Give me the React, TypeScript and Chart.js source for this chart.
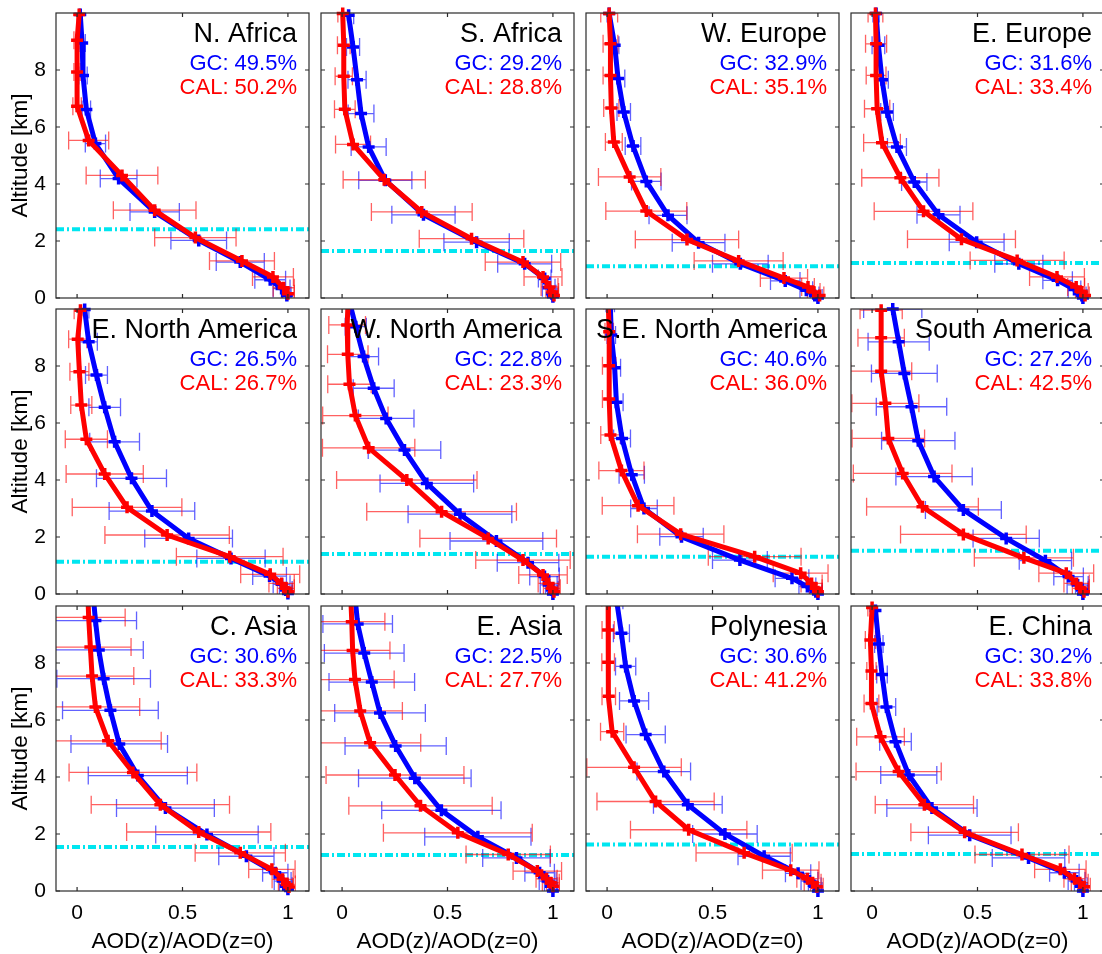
import React, { useEffect, useRef } from 'react';
import { Chart, registerables } from 'chart.js';

Chart.register(...registerables);

const FONT = "'Liberation Sans', Arial, Helvetica, sans-serif";

// ---------------- axes ----------------
const X_TICKS = [0, 0.5, 1];
const Y_TICKS = [0, 2, 4, 6, 8];
const X_MIN = -0.1;
const X_MAX = 1.1;
const Y_MIN = 0;
const Y_MAX = 10;
const X_TITLE = 'AOD(z)/AOD(z=0)';
const Y_TITLE = 'Altitude [km]';

// ---------------- panel labels ----------------
const REGIONS = [
  'N. Africa', 'S. Africa', 'W. Europe', 'E. Europe',
  'E. North America', 'W. North America', 'S.E. North America', 'South America',
  'C. Asia', 'E. Asia', 'Polynesia', 'E. China',
];
const GC_SCORES = ['49.5%', '29.2%', '32.9%', '31.6%', '26.5%', '22.8%', '40.6%', '27.2%', '30.6%', '22.5%', '30.6%', '30.2%'];
const CAL_SCORES = ['50.2%', '28.8%', '35.1%', '33.4%', '26.7%', '23.3%', '36.0%', '42.5%', '33.3%', '27.7%', '41.2%', '33.8%'];
const PBL_HEIGHTS = [2.41, 1.65, 1.11, 1.23, 1.13, 1.40, 1.31, 1.52, 1.54, 1.26, 1.63, 1.30];

// ---------------- N. Africa ----------------
const NAF_CAL_ALT = [9.95, 9.04, 7.93, 6.73, 5.53, 4.30, 3.08, 2.12, 1.30, 0.74, 0.36, 0.15];
const NAF_CAL_AOD = [0.01, 0.0, 0.0, 0.0, 0.055, 0.213, 0.368, 0.561, 0.782, 0.929, 0.98, 1.0];
const NAF_CAL_ERR = [0.01, 0.015, 0.015, 0.02, 0.095, 0.17, 0.196, 0.193, 0.154, 0.097, 0.05, 0.03];
const NAF_GC_ALT = [9.95, 8.95, 7.81, 6.61, 5.42, 4.19, 3.02, 2.02, 1.26, 0.64, 0.33, 0.09];
const NAF_GC_AOD = [0.015, 0.024, 0.028, 0.044, 0.087, 0.197, 0.368, 0.577, 0.774, 0.916, 0.97, 0.995];
const NAF_GC_ERR = [0.01, 0.015, 0.02, 0.02, 0.048, 0.087, 0.117, 0.132, 0.114, 0.073, 0.04, 0.02];

// ---------------- S. Africa ----------------
const SAF_CAL_ALT = [9.98, 8.87, 7.78, 6.62, 5.39, 4.15, 3.02, 2.08, 1.26, 0.74, 0.39, 0.21, 0.09];
const SAF_CAL_AOD = [0.003, 0.008, 0.008, 0.013, 0.052, 0.2, 0.378, 0.614, 0.858, 0.953, 0.984, 0.997, 1.005];
const SAF_CAL_ERR = [0.023, 0.03, 0.041, 0.049, 0.083, 0.195, 0.239, 0.248, 0.179, 0.09, 0.04, 0.03, 0.02];
const SAF_GC_ALT = [9.92, 8.81, 7.66, 6.47, 5.30, 4.13, 2.92, 1.96, 1.20, 0.68, 0.36, 0.15, 0.04];
const SAF_GC_AOD = [0.031, 0.052, 0.071, 0.09, 0.126, 0.205, 0.386, 0.638, 0.866, 0.961, 0.98, 0.995, 1.0];
const SAF_GC_ERR = [0.024, 0.031, 0.043, 0.061, 0.083, 0.126, 0.15, 0.155, 0.128, 0.03, 0.03, 0.02, 0.02];

// ---------------- W. Europe ----------------
const WEU_CAL_ALT = [9.98, 8.92, 7.81, 6.67, 5.47, 4.25, 3.05, 2.05, 1.30, 0.70, 0.39, 0.21, 0.09];
const WEU_CAL_AOD = [0.01, 0.016, 0.016, 0.02, 0.032, 0.107, 0.186, 0.379, 0.624, 0.839, 0.953, 0.98, 1.008];
const WEU_CAL_ERR = [0.04, 0.035, 0.035, 0.036, 0.04, 0.148, 0.192, 0.245, 0.211, 0.112, 0.03, 0.03, 0.02];
const WEU_GC_ALT = [9.98, 8.87, 7.70, 6.53, 5.33, 4.09, 2.90, 1.94, 1.20, 0.60, 0.27, 0.09, 0.0];
const WEU_GC_AOD = [0.01, 0.036, 0.052, 0.079, 0.123, 0.186, 0.289, 0.434, 0.632, 0.845, 0.945, 0.985, 1.0];
const WEU_GC_ERR = [0.01, 0.02, 0.032, 0.032, 0.037, 0.07, 0.09, 0.125, 0.132, 0.07, 0.03, 0.02, 0.02];

// ---------------- E. Europe ----------------
const EEU_CAL_ALT = [9.98, 8.92, 7.81, 6.64, 5.45, 4.22, 3.04, 2.06, 1.32, 0.74, 0.39, 0.21, 0.09];
const EEU_CAL_AOD = [0.016, 0.019, 0.019, 0.024, 0.047, 0.134, 0.244, 0.424, 0.688, 0.877, 0.968, 0.995, 1.01];
const EEU_CAL_ERR = [0.035, 0.05, 0.047, 0.06, 0.087, 0.183, 0.234, 0.256, 0.223, 0.13, 0.04, 0.03, 0.02];
const EEU_GC_ALT = [9.98, 8.87, 7.66, 6.53, 5.30, 4.07, 2.92, 1.96, 1.20, 0.62, 0.30, 0.09, 0.0];
const EEU_GC_AOD = [0.019, 0.03, 0.047, 0.071, 0.118, 0.2, 0.315, 0.496, 0.696, 0.88, 0.96, 0.995, 1.0];
const EEU_GC_ERR = [0.015, 0.03, 0.03, 0.03, 0.045, 0.06, 0.102, 0.13, 0.114, 0.07, 0.03, 0.02, 0.02];

// ---------------- E. North America ----------------
const ENA_CAL_ALT = [9.96, 8.94, 7.80, 6.63, 5.43, 4.21, 3.04, 2.07, 1.31, 0.69, 0.37, 0.20, 0.08];
const ENA_CAL_AOD = [0.016, 0.003, 0.011, 0.02, 0.044, 0.131, 0.237, 0.427, 0.724, 0.916, 0.97, 0.99, 1.0];
const ENA_CAL_ERR = [0.03, 0.043, 0.045, 0.05, 0.1, 0.183, 0.26, 0.295, 0.253, 0.14, 0.06, 0.04, 0.02];
const ENA_GC_ALT = [9.98, 8.85, 7.68, 6.55, 5.34, 4.06, 2.91, 1.95, 1.25, 0.63, 0.34, 0.14, 0.02];
const ENA_GC_AOD = [0.036, 0.055, 0.092, 0.131, 0.178, 0.258, 0.355, 0.529, 0.73, 0.913, 0.97, 0.99, 1.0];
const ENA_GC_ERR = [0.02, 0.041, 0.052, 0.075, 0.118, 0.166, 0.203, 0.208, 0.162, 0.08, 0.04, 0.03, 0.02];

// ---------------- W. North America ----------------
const WNA_CAL_ALT = [10.5, 9.44, 8.41, 7.36, 6.26, 5.13, 4.00, 2.89, 1.95, 1.19, 0.67, 0.37, 0.20, 0.08];
const WNA_CAL_AOD = [0.03, 0.024, 0.027, 0.035, 0.063, 0.126, 0.307, 0.472, 0.693, 0.858, 0.953, 0.98, 0.995, 1.005];
const WNA_CAL_ERR = [0.08, 0.087, 0.096, 0.103, 0.155, 0.219, 0.333, 0.355, 0.324, 0.224, 0.115, 0.05, 0.04, 0.02];
const WNA_GC_ALT = [10.4, 9.38, 8.33, 7.22, 6.16, 5.05, 3.88, 2.80, 1.86, 1.10, 0.61, 0.32, 0.14, 0.0];
const WNA_GC_AOD = [0.03, 0.065, 0.102, 0.15, 0.209, 0.296, 0.402, 0.559, 0.732, 0.882, 0.96, 0.98, 0.995, 1.0];
const WNA_GC_ERR = [0.04, 0.05, 0.071, 0.097, 0.132, 0.172, 0.222, 0.246, 0.22, 0.146, 0.07, 0.04, 0.03, 0.02];

// ---------------- S.E. North America ----------------
const SENA_CAL_ALT = [10.3, 9.2, 8.01, 6.84, 5.58, 4.33, 3.10, 2.10, 1.31, 0.73, 0.37, 0.20, 0.08];
const SENA_CAL_AOD = [0.005, 0.01, 0.01, 0.01, 0.016, 0.068, 0.147, 0.349, 0.70, 0.918, 0.97, 0.99, 1.0];
const SENA_CAL_ERR = [0.02, 0.02, 0.032, 0.032, 0.046, 0.107, 0.17, 0.205, 0.22, 0.13, 0.05, 0.03, 0.02];
const SENA_GC_ALT = [10.2, 9.09, 7.94, 6.73, 5.46, 4.18, 3.00, 2.01, 1.19, 0.55, 0.26, 0.08, 0.0];
const SENA_GC_AOD = [0.015, 0.02, 0.036, 0.044, 0.071, 0.117, 0.175, 0.353, 0.63, 0.877, 0.95, 0.99, 1.0];
const SENA_GC_ERR = [0.02, 0.02, 0.028, 0.032, 0.04, 0.06, 0.063, 0.103, 0.13, 0.08, 0.04, 0.03, 0.02];

// ---------------- South America ----------------
const SAM_CAL_ALT = [9.96, 8.99, 7.82, 6.69, 5.46, 4.23, 3.06, 2.09, 1.27, 0.73, 0.37, 0.20, 0.08];
const SAM_CAL_AOD = [0.043, 0.043, 0.043, 0.063, 0.077, 0.145, 0.239, 0.433, 0.72, 0.921, 0.97, 0.99, 1.005];
const SAM_CAL_ERR = [0.1, 0.11, 0.145, 0.159, 0.172, 0.234, 0.265, 0.298, 0.235, 0.13, 0.06, 0.04, 0.02];
const SAM_GC_ALT = [10.0, 8.85, 7.74, 6.57, 5.38, 4.12, 2.95, 1.95, 1.17, 0.61, 0.32, 0.14, 0.0];
const SAM_GC_AOD = [0.098, 0.126, 0.153, 0.187, 0.219, 0.294, 0.433, 0.636, 0.822, 0.932, 0.975, 0.995, 1.0];
const SAM_GC_ERR = [0.138, 0.145, 0.156, 0.167, 0.174, 0.181, 0.18, 0.157, 0.124, 0.07, 0.05, 0.03, 0.02];

// ---------------- C. Asia ----------------
const CAS_CAL_ALT = [10.6, 9.60, 8.56, 7.54, 6.46, 5.27, 4.16, 3.03, 2.07, 1.34, 0.76, 0.41, 0.23, 0.14];
const CAS_CAL_AOD = [0.05, 0.055, 0.063, 0.071, 0.087, 0.147, 0.265, 0.395, 0.577, 0.774, 0.924, 0.975, 0.995, 1.005];
const CAS_CAL_ERR = [0.2, 0.173, 0.193, 0.198, 0.21, 0.252, 0.303, 0.328, 0.342, 0.214, 0.11, 0.05, 0.04, 0.02];
const CAS_GC_ALT = [10.5, 9.49, 8.46, 7.45, 6.34, 5.16, 4.05, 2.91, 1.98, 1.22, 0.64, 0.35, 0.17, 0.06];
const CAS_GC_AOD = [0.075, 0.087, 0.103, 0.126, 0.158, 0.2, 0.288, 0.419, 0.616, 0.803, 0.94, 0.975, 0.99, 1.0];
const CAS_GC_ERR = [0.19, 0.195, 0.211, 0.222, 0.227, 0.229, 0.235, 0.232, 0.243, 0.131, 0.06, 0.04, 0.03, 0.02];

// ---------------- E. Asia ----------------
const EAS_CAL_ALT = [10.5, 9.45, 8.44, 7.42, 6.32, 5.20, 4.07, 2.99, 2.04, 1.28, 0.70, 0.43, 0.29, 0.17];
const EAS_CAL_AOD = [0.04, 0.046, 0.05, 0.061, 0.086, 0.133, 0.251, 0.372, 0.549, 0.788, 0.926, 0.97, 0.99, 1.0];
const EAS_CAL_ERR = [0.15, 0.157, 0.177, 0.186, 0.2, 0.24, 0.327, 0.34, 0.353, 0.2, 0.115, 0.05, 0.04, 0.03];
const EAS_GC_ALT = [10.4, 9.37, 8.35, 7.33, 6.25, 5.09, 3.96, 2.83, 1.90, 1.16, 0.64, 0.35, 0.17, 0.0];
const EAS_GC_AOD = [0.06, 0.074, 0.105, 0.141, 0.18, 0.254, 0.345, 0.471, 0.644, 0.827, 0.937, 0.975, 0.99, 1.0];
const EAS_GC_ERR = [0.16, 0.165, 0.189, 0.203, 0.215, 0.24, 0.267, 0.283, 0.252, 0.16, 0.07, 0.04, 0.03, 0.02];

// ---------------- Polynesia ----------------
const POL_CAL_ALT = [10.3, 9.16, 8.03, 6.83, 5.59, 4.34, 3.14, 2.15, 1.34, 0.73, 0.43, 0.29, 0.15];
const POL_CAL_AOD = [0.005, 0.005, 0.005, 0.008, 0.024, 0.128, 0.23, 0.387, 0.65, 0.871, 0.95, 0.975, 0.995];
const POL_CAL_ERR = [0.03, 0.029, 0.03, 0.032, 0.055, 0.224, 0.278, 0.276, 0.228, 0.134, 0.05, 0.04, 0.03];
const POL_GC_ALT = [10.2, 9.04, 7.88, 6.67, 5.49, 4.19, 3.03, 2.00, 1.22, 0.62, 0.35, 0.17, 0.0];
const POL_GC_AOD = [0.045, 0.068, 0.088, 0.128, 0.183, 0.269, 0.383, 0.559, 0.745, 0.906, 0.96, 0.985, 1.0];
const POL_GC_ERR = [0.03, 0.038, 0.048, 0.069, 0.093, 0.127, 0.163, 0.153, 0.124, 0.06, 0.04, 0.03, 0.02];

// ---------------- E. China ----------------
const ECH_CAL_ALT = [9.95, 8.81, 7.72, 6.58, 5.41, 4.19, 3.03, 2.06, 1.28, 0.76, 0.43, 0.29, 0.15];
const ECH_CAL_AOD = [0.0, -0.008, -0.003, -0.003, 0.04, 0.126, 0.248, 0.439, 0.711, 0.893, 0.96, 0.985, 1.005];
const ECH_CAL_ERR = [0.02, 0.024, 0.022, 0.035, 0.113, 0.202, 0.233, 0.255, 0.223, 0.122, 0.05, 0.04, 0.03];
const ECH_GC_ALT = [9.84, 8.67, 7.60, 6.46, 5.24, 4.07, 2.91, 1.96, 1.16, 0.64, 0.35, 0.17, 0.0];
const ECH_GC_AOD = [0.016, 0.032, 0.047, 0.068, 0.111, 0.174, 0.284, 0.463, 0.742, 0.912, 0.97, 0.99, 1.0];
const ECH_GC_ERR = [0.01, 0.02, 0.025, 0.044, 0.075, 0.133, 0.214, 0.196, 0.172, 0.07, 0.04, 0.03, 0.02];

// tables built from the arrays above (panel order = REGIONS order)
const CAL_ALT = [NAF_CAL_ALT, SAF_CAL_ALT, WEU_CAL_ALT, EEU_CAL_ALT, ENA_CAL_ALT, WNA_CAL_ALT, SENA_CAL_ALT, SAM_CAL_ALT, CAS_CAL_ALT, EAS_CAL_ALT, POL_CAL_ALT, ECH_CAL_ALT];
const CAL_AOD = [NAF_CAL_AOD, SAF_CAL_AOD, WEU_CAL_AOD, EEU_CAL_AOD, ENA_CAL_AOD, WNA_CAL_AOD, SENA_CAL_AOD, SAM_CAL_AOD, CAS_CAL_AOD, EAS_CAL_AOD, POL_CAL_AOD, ECH_CAL_AOD];
const CAL_ERR = [NAF_CAL_ERR, SAF_CAL_ERR, WEU_CAL_ERR, EEU_CAL_ERR, ENA_CAL_ERR, WNA_CAL_ERR, SENA_CAL_ERR, SAM_CAL_ERR, CAS_CAL_ERR, EAS_CAL_ERR, POL_CAL_ERR, ECH_CAL_ERR];
const GC_ALT = [NAF_GC_ALT, SAF_GC_ALT, WEU_GC_ALT, EEU_GC_ALT, ENA_GC_ALT, WNA_GC_ALT, SENA_GC_ALT, SAM_GC_ALT, CAS_GC_ALT, EAS_GC_ALT, POL_GC_ALT, ECH_GC_ALT];
const GC_AOD = [NAF_GC_AOD, SAF_GC_AOD, WEU_GC_AOD, EEU_GC_AOD, ENA_GC_AOD, WNA_GC_AOD, SENA_GC_AOD, SAM_GC_AOD, CAS_GC_AOD, EAS_GC_AOD, POL_GC_AOD, ECH_GC_AOD];
const GC_ERR = [NAF_GC_ERR, SAF_GC_ERR, WEU_GC_ERR, EEU_GC_ERR, ENA_GC_ERR, WNA_GC_ERR, SENA_GC_ERR, SAM_GC_ERR, CAS_GC_ERR, EAS_GC_ERR, POL_GC_ERR, ECH_GC_ERR];

// ---------------- layout / style ----------------
const COL_LEFT = [56, 321, 586, 851];
const ROW_TOP = [13, 309, 606];
const PLOT_W = 253;
const PLOT_H = 285;
const BLUE = '#0000FF';
const RED = '#FF0000';
const BLUE_ERR = 'rgba(0,0,255,0.62)';
const RED_ERR = 'rgba(255,0,0,0.62)';
const CYAN = '#00E6F0';

function Panel({ idx }: { idx: number }) {
  const ref = useRef<HTMLCanvasElement | null>(null);
  const row = Math.floor(idx / 4);
  const col = idx % 4;
  const padL = col === 0 ? COL_LEFT[0] : 14;
  const padR = 14;
  const padT = col === 0 ? 26 : 14;
  const padB = row === 2 ? 64 : col === 0 ? 26 : 14;
  const w = padL + PLOT_W + padR;
  const h = padT + PLOT_H + padB;

  useEffect(() => {
    if (!ref.current) return;
    const series = [
      { alt: GC_ALT[idx], aod: GC_AOD[idx], err: GC_ERR[idx], color: BLUE, errColor: BLUE_ERR },
      { alt: CAL_ALT[idx], aod: CAL_AOD[idx], err: CAL_ERR[idx], color: RED, errColor: RED_ERR },
    ];

    const deco = {
      id: 'deco' + idx,
      beforeDatasetsDraw(chart: any) {
        const { ctx, chartArea: a, scales } = chart;
        const xs = scales.x;
        const ys = scales.y;
        ctx.save();
        ctx.beginPath();
        ctx.rect(a.left, a.top, a.right - a.left, a.bottom - a.top);
        ctx.clip();
        // boundary-layer line
        const yy = ys.getPixelForValue(PBL_HEIGHTS[idx]);
        ctx.strokeStyle = CYAN;
        ctx.lineWidth = 4;
        ctx.setLineDash([8, 3, 2, 3]);
        ctx.beginPath();
        ctx.moveTo(a.left, yy);
        ctx.lineTo(a.right, yy);
        ctx.stroke();
        ctx.setLineDash([]);
        // horizontal error bars
        ctx.lineWidth = 1.3;
        for (const s of series) {
          ctx.strokeStyle = s.errColor;
          for (let i = 0; i < s.alt.length; i++) {
            const py = ys.getPixelForValue(s.alt[i]);
            const x1 = xs.getPixelForValue(s.aod[i] - s.err[i]);
            const x2 = xs.getPixelForValue(s.aod[i] + s.err[i]);
            ctx.beginPath();
            ctx.moveTo(x1, py);
            ctx.lineTo(x2, py);
            ctx.moveTo(x1, py - 9);
            ctx.lineTo(x1, py + 9);
            ctx.moveTo(x2, py - 9);
            ctx.lineTo(x2, py + 9);
            ctx.stroke();
          }
        }
        ctx.restore();
      },
      afterDatasetsDraw(chart: any) {
        const { ctx, chartArea: a, scales } = chart;
        const xs = scales.x;
        const ys = scales.y;
        ctx.save();
        // frame
        ctx.strokeStyle = '#2a2a2a';
        ctx.lineWidth = 1.2;
        ctx.strokeRect(a.left, a.top, a.right - a.left, a.bottom - a.top);
        // inward tick marks on all four sides
        const tl = 4;
        ctx.beginPath();
        for (const v of X_TICKS) {
          const px = xs.getPixelForValue(v);
          ctx.moveTo(px, a.bottom);
          ctx.lineTo(px, a.bottom - tl);
          ctx.moveTo(px, a.top);
          ctx.lineTo(px, a.top + tl);
        }
        for (const v of Y_TICKS) {
          const py = ys.getPixelForValue(v);
          ctx.moveTo(a.left, py);
          ctx.lineTo(a.left + tl, py);
          ctx.moveTo(a.right, py);
          ctx.lineTo(a.right - tl, py);
        }
        ctx.stroke();
        // texts
        ctx.textAlign = 'right';
        ctx.textBaseline = 'alphabetic';
        ctx.fillStyle = '#000';
        ctx.font = `27px ${FONT}`;
        ctx.fillText(REGIONS[idx], a.right - 12, a.top + 29);
        ctx.font = `22px ${FONT}`;
        ctx.fillStyle = BLUE;
        ctx.fillText('GC: ' + GC_SCORES[idx], a.right - 12, a.top + 57);
        ctx.fillStyle = RED;
        ctx.fillText('CAL: ' + CAL_SCORES[idx], a.right - 12, a.top + 81);
        ctx.restore();
      },
    };

    const makeDataset = (s: any, label: string, order: number) => {
      const overTop = Math.max(...s.alt) > Y_MAX;
      return {
        label,
        data: s.alt.map((a: number, i: number) => ({ x: s.aod[i], y: a })),
        showLine: true,
        borderColor: s.color,
        backgroundColor: s.color,
        borderWidth: 5,
        pointStyle: 'cross',
        pointRadius: 6,
        pointBorderWidth: 3.5,
        pointBorderColor: s.color,
        pointHoverRadius: 6,
        tension: 0,
        order,
        clip: { left: 8, right: 8, top: overTop ? 0 : 8, bottom: 8 },
      };
    };

    const chart = new Chart(ref.current, {
      type: 'scatter',
      data: {
        datasets: [makeDataset(series[1], 'CAL', 1), makeDataset(series[0], 'GC', 2)],
      },
      options: {
        responsive: false,
        animation: false,
        events: [],
        layout: { padding: { left: 0, right: padR, top: padT, bottom: 0 } },
        plugins: { legend: { display: false }, tooltip: { enabled: false }, title: { display: false } },
        scales: {
          x: {
            type: 'linear',
            min: X_MIN,
            max: X_MAX,
            grid: { display: false, drawTicks: false },
            border: { display: false },
            afterBuildTicks: (sc: any) => {
              sc.ticks = X_TICKS.map((v) => ({ value: v }));
            },
            afterFit: (sc: any) => {
              sc.height = padB;
            },
            ticks: {
              display: row === 2,
              autoSkip: false,
              maxRotation: 0,
              padding: 10,
              color: '#000',
              font: { family: FONT, size: 21 },
              callback: (v: any) => String(v),
            },
            title: {
              display: row === 2,
              text: X_TITLE,
              color: '#000',
              font: { family: FONT, size: 22.5 },
              padding: { top: 0, bottom: 0 },
            },
          },
          y: {
            type: 'linear',
            min: Y_MIN,
            max: Y_MAX,
            grid: { display: false, drawTicks: false },
            border: { display: false },
            afterBuildTicks: (sc: any) => {
              sc.ticks = Y_TICKS.map((v) => ({ value: v }));
            },
            afterFit: (sc: any) => {
              sc.width = padL;
            },
            ticks: {
              display: col === 0,
              autoSkip: false,
              padding: 10,
              color: '#000',
              font: { family: FONT, size: 21 },
              callback: (v: any) => String(v),
            },
            title: {
              display: col === 0,
              text: Y_TITLE,
              color: '#000',
              font: { family: FONT, size: 22.5 },
              padding: { top: 7, bottom: 0 },
            },
          },
        },
      },
      plugins: [deco],
    } as any);
    return () => chart.destroy();
  }, [idx]);

  return (
    <canvas
      ref={ref}
      width={w}
      height={h}
      style={{
        position: 'absolute',
        left: COL_LEFT[col] - padL,
        top: ROW_TOP[row] - padT,
        width: w,
        height: h,
      }}
    />
  );
}

export default function App() {
  return (
    <div
      style={{
        position: 'fixed',
        left: 0,
        top: 0,
        width: 1102,
        height: 954,
        overflow: 'hidden',
        background: '#fff',
      }}
    >
      {REGIONS.map((_, i) => (
        <Panel key={i} idx={i} />
      ))}
    </div>
  );
}
